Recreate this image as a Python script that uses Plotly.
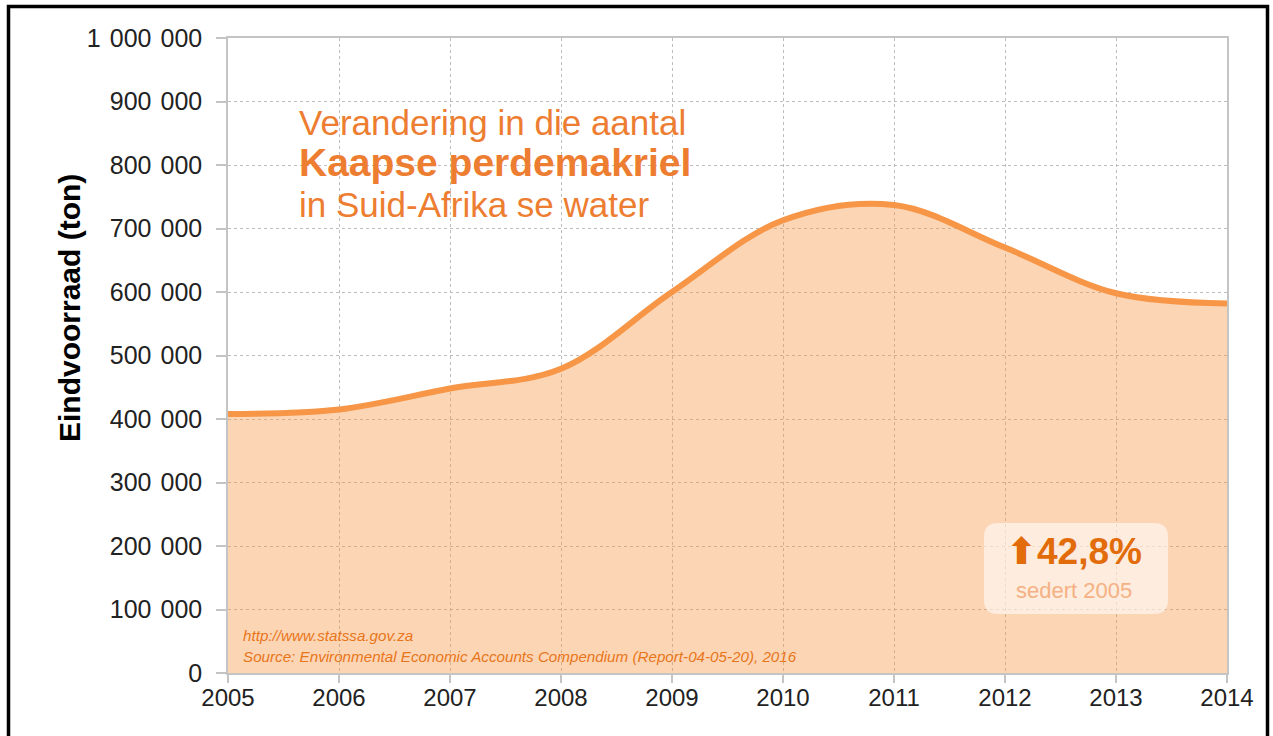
import plotly.graph_objects as go

years = [2005, 2006, 2007, 2008, 2009, 2010, 2011, 2012, 2013, 2014]
stock = [408000, 415000, 448000, 479000, 600000, 713000, 737000, 670000, 598000, 582000]

SP = " \u200a"
y_tickvals = [0, 100000, 200000, 300000, 400000, 500000, 600000, 700000, 800000, 900000, 1000000]
y_ticktext = ["0", "100 000", "200 000", "300 000", "400 000", "500 000",
              "600 000", "700 000", "800 000", "900 000", "1 000 000"]
x_tickvals = years
x_ticktext = [str(y) for y in years]

title_lines = ["Verandering in die aantal", "<b>Kaapse perdemakriel</b>", "in Suid-Afrika se water"]
source_lines = ["http://www.statssa.gov.za",
                "Source: Environmental Economic Accounts Compendium (Report-04-05-20), 2016"]
badge_value = "<b>⬆42,8%</b>"
badge_sub = "sedert 2005"
y_title = "<b>Eindvoorraad (ton)</b>"

W, H = 1273, 736
L, R, T, B = 228, 1227, 38, 673


def fx(px):
    return (px - L) / (R - L)


def fy(py):
    return (B - py) / (B - T)


fig = go.Figure()
fig.add_trace(go.Scatter(
    x=years, y=stock, mode="lines",
    line=dict(color="#F79646", width=6, shape="spline", smoothing=1.0),
    fill="tozeroy", fillcolor="rgba(247,150,70,0.40)",
    hoverinfo="skip", showlegend=False,
))

shapes = []
shapes.append(dict(type="rect", xref="paper", yref="paper",
                   x0=fx(253), x1=fx(698), y0=fy(210), y1=fy(70),
                   fillcolor="white", line=dict(width=0), layer="between"))
bx0, bx1, by0, by1, rr = 984, 1168, 523, 614, 14
path = (f"M {fx(bx0+rr)},{fy(by0)} L {fx(bx1-rr)},{fy(by0)} "
        f"Q {fx(bx1)},{fy(by0)} {fx(bx1)},{fy(by0+rr)} "
        f"L {fx(bx1)},{fy(by1-rr)} Q {fx(bx1)},{fy(by1)} {fx(bx1-rr)},{fy(by1)} "
        f"L {fx(bx0+rr)},{fy(by1)} Q {fx(bx0)},{fy(by1)} {fx(bx0)},{fy(by1-rr)} "
        f"L {fx(bx0)},{fy(by0+rr)} Q {fx(bx0)},{fy(by0)} {fx(bx0+rr)},{fy(by0)} Z")
shapes.append(dict(type="path", xref="paper", yref="paper", path=path,
                   fillcolor="rgba(255,255,255,0.55)", line=dict(width=0), layer="above"))
shapes.append(dict(type="rect", xref="paper", yref="paper",
                   x0=fx(8.5), x1=fx(1267.5), y0=fy(760), y1=fy(6.5),
                   fillcolor="rgba(0,0,0,0)", line=dict(color="black", width=3.5), layer="above"))

annotations = []
title_specs = [(title_lines[0], 35, 123), (title_lines[1], 39, 162), (title_lines[2], 35, 205)]
for txt, size, cy in title_specs:
    annotations.append(dict(text=txt, xref="paper", yref="paper", x=fx(297), y=fy(cy),
                            xanchor="left", yanchor="middle", showarrow=False,
                            font=dict(family="Liberation Sans, Arial", size=size, color="#ED7D31")))
for txt, cy in zip(source_lines, [635, 656]):
    annotations.append(dict(text=f"<i>{txt}</i>", xref="paper", yref="paper", x=fx(241), y=fy(cy),
                            xanchor="left", yanchor="middle", showarrow=False,
                            font=dict(family="Liberation Sans, Arial", size=15.2, color="#E8751A")))
annotations.append(dict(text=badge_value, xref="paper", yref="paper", x=fx(1074), y=fy(551),
                        xanchor="center", yanchor="middle", showarrow=False,
                        font=dict(family="Liberation Sans, DejaVu Sans", size=37, color="#E26B0A")))
annotations.append(dict(text=badge_sub, xref="paper", yref="paper", x=fx(1074), y=fy(590),
                        xanchor="center", yanchor="middle", showarrow=False,
                        font=dict(family="Liberation Sans, Arial", size=22, color="#F5B183")))
annotations.append(dict(text=y_title, xref="paper", yref="paper", x=fx(69), y=fy(308),
                        xanchor="center", yanchor="middle", showarrow=False, textangle=-90,
                        font=dict(family="Liberation Sans, Arial", size=30, color="black")))

fig.update_layout(
    width=W, height=H,
    margin=dict(l=L, r=W - R, t=T, b=H - B, pad=0),
    paper_bgcolor="white", plot_bgcolor="white",
    shapes=shapes, annotations=annotations,
    font=dict(family="Liberation Sans, Arial", color="#222222"),
    xaxis=dict(range=[2005, 2014], tickvals=x_tickvals, ticktext=x_ticktext,
               showgrid=True, gridcolor="#BDBDBD", griddash="dot", gridwidth=1,
               showline=True, linecolor="#C4C4C4", linewidth=1.5, mirror=True,
               ticks="outside", ticklen=8, tickcolor="#C4C4C4", tickwidth=1.5,
               ticklabelstandoff=-6,
               tickfont=dict(size=24, color="#222222"), zeroline=False, fixedrange=True),
    yaxis=dict(range=[0, 1000000], tickvals=y_tickvals,
               ticktext=[t.replace(" ", SP) for t in y_ticktext],
               showgrid=True, gridcolor="#BDBDBD", griddash="dot", gridwidth=1,
               showline=True, linecolor="#C4C4C4", linewidth=1.5, mirror=True,
               ticks="outside", ticklen=10, tickcolor="#C4C4C4", tickwidth=1.5,
               ticklabelstandoff=9,
               tickfont=dict(size=25, color="#222222"), zeroline=False,
               fixedrange=True),
)

fig.write_html("out.html", config={"displayModeBar": False},
               post_script="document.body.style.margin='0px';")
